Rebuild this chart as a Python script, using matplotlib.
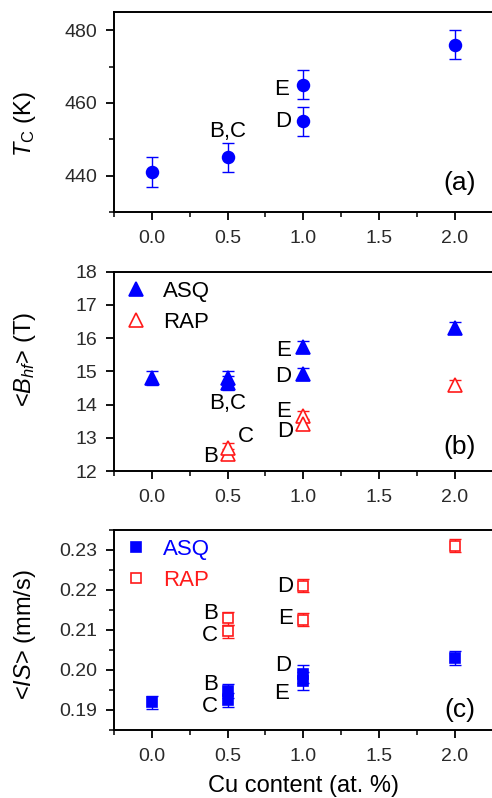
import matplotlib
matplotlib.use("Agg")
import matplotlib.pyplot as plt
from matplotlib.ticker import MultipleLocator

plt.rcParams['font.family'] = ['Liberation Sans', 'DejaVu Sans']
plt.rcParams['mathtext.fontset'] = 'custom'
plt.rcParams['mathtext.it'] = 'Liberation Sans:italic'
plt.rcParams['mathtext.rm'] = 'Liberation Sans'

BLUE = '#0000ff'
RED = '#ff1a1a'

# (a) Curie temperature
tc_x = [0.0, 0.5, 1.0, 1.0, 2.0]
tc_y = [441, 445, 465, 455, 476]
tc_err = [4, 4, 4, 4, 4]

# (b) mean hyperfine field
bhf_asq_x = [0.0, 0.5, 0.5, 1.0, 1.0, 2.0]
bhf_asq_y = [14.8, 14.8, 14.65, 15.72, 14.93, 16.32]
bhf_asq_err = [0.2, 0.2, 0.2, 0.18, 0.18, 0.18]
bhf_rap_x = [0.5, 0.5, 1.0, 1.0, 2.0]
bhf_rap_y = [12.5, 12.7, 13.65, 13.42, 14.6]
bhf_rap_err = [0.15, 0.15, 0.15, 0.15, 0.15]

# (c) mean isomer shift
is_asq_x = [0.0, 0.5, 0.5, 1.0, 1.0, 2.0]
is_asq_y = [0.1919, 0.1948, 0.1925, 0.1990, 0.1972, 0.2030]
is_asq_err = [0.0016, 0.0018, 0.0018, 0.0022, 0.0022, 0.0018]
is_rap_x = [0.5, 0.5, 1.0, 1.0, 2.0]
is_rap_y = [0.2129, 0.2097, 0.2211, 0.2126, 0.2311]
is_rap_err = [0.0016, 0.0016, 0.0016, 0.0016, 0.0017]

# sample letters
notes_a = [("B,C", 0.5, 452), ("E", 0.86, 463.8), ("D", 0.87, 455)]
notes_b = [("B,C", 0.5, 14.04), ("C", 0.62, 13.03), ("B", 0.385, 12.43),
           ("E", 0.87, 15.64), ("D", 0.87, 14.84), ("E", 0.87, 13.78), ("D", 0.88, 13.18)]
notes_c = [("B", 0.39, 0.2140), ("C", 0.38, 0.2086), ("D", 0.88, 0.2209), ("E", 0.88, 0.2129),
           ("B", 0.385, 0.1963), ("C", 0.38, 0.1908), ("D", 0.865, 0.2011), ("E", 0.86, 0.1940)]

W, H = 492, 798
fig = plt.figure(figsize=(W / 100, H / 100), dpi=100)
left, right = 114 / W, 492.5 / W
ax_a = fig.add_axes([left, 1 - 212 / H, right - left, 200 / H])
ax_b = fig.add_axes([left, 1 - 471 / H, right - left, 199.3 / H])
ax_c = fig.add_axes([left, 1 - 730 / H, right - left, 200 / H])


def style(ax):
    ax.set_xlim(-0.25, 2.25)
    ax.xaxis.set_major_locator(MultipleLocator(0.5))
    ax.xaxis.set_minor_locator(MultipleLocator(0.25))
    ax.xaxis.set_major_formatter(plt.FormatStrFormatter('%.1f'))
    for s in ax.spines.values():
        s.set_linewidth(1.4)
    ax.tick_params(which='major', direction='out', length=6, width=1.3,
                   labelsize=14, labelcolor='#2a2a2a', pad=6)
    ax.tick_params(axis='x', which='major', pad=7)
    ax.tick_params(which='minor', direction='out', length=3.5, width=1.1)


def ebar(ax, x, y, err, color, marker, ms, filled):
    ax.errorbar(x, y, yerr=err, fmt='none', ecolor=color, elinewidth=1.0,
                capsize=4, capthick=1.0, zorder=2)
    line, = ax.plot(x, y, linestyle='none', marker=marker, markersize=ms,
                    markerfacecolor=color if filled else 'white',
                    markeredgecolor=color, markeredgewidth=1.2, zorder=3)
    return line


def notes(ax, items):
    for t, x, y in items:
        ax.text(x, y, t, ha='center', va='center', fontsize=16, color='black')


# (a)
style(ax_a)
ebar(ax_a, tc_x, tc_y, tc_err, BLUE, 'o', 8.5, True)
ax_a.set_ylim(430, 485)
ax_a.yaxis.set_major_locator(MultipleLocator(20))
ax_a.yaxis.set_minor_locator(MultipleLocator(10))
notes(ax_a, notes_a)
ax_a.set_ylabel(r'$T_{\mathrm{C}}$ (K)', fontsize=17, va='center')
ax_a.yaxis.set_label_coords(-0.235, 0.44)
ax_a.text(0.913, 0.145, '(a)', transform=ax_a.transAxes, ha='center', va='center', fontsize=19)

# (b)
style(ax_b)
h1 = ebar(ax_b, bhf_asq_x, bhf_asq_y, bhf_asq_err, BLUE, '^', 9.5, True)
h2 = ebar(ax_b, bhf_rap_x, bhf_rap_y, bhf_rap_err, RED, '^', 9.5, False)
ax_b.set_ylim(12, 18)
ax_b.yaxis.set_major_locator(MultipleLocator(1))
notes(ax_b, notes_b)
ax_b.set_ylabel(r'<$B_{hf}$> (T)', fontsize=17, va='center')
ax_b.yaxis.set_label_coords(-0.235, 0.56)
ax_b.text(0.913, 0.118, '(b)', transform=ax_b.transAxes, ha='center', va='center', fontsize=19)
ax_b.legend([h1, h2], ['ASQ', 'RAP'], loc='upper left', bbox_to_anchor=(0, 1),
            borderaxespad=0, frameon=False, fontsize=16, handlelength=1.15,
            handletextpad=0.65, labelspacing=0.45, borderpad=0.4)

# (c)
style(ax_c)
h3 = ebar(ax_c, is_asq_x, is_asq_y, is_asq_err, BLUE, 's', 7.5, True)
h4 = ebar(ax_c, is_rap_x, is_rap_y, is_rap_err, RED, 's', 7.5, False)
ax_c.set_ylim(0.185, 0.235)
ax_c.yaxis.set_major_locator(MultipleLocator(0.01))
ax_c.yaxis.set_minor_locator(MultipleLocator(0.005))
ax_c.yaxis.set_major_formatter(plt.FormatStrFormatter('%.2f'))
notes(ax_c, notes_c)
ax_c.set_ylabel(r'<$IS$> (mm/s)', fontsize=17, va='center')
ax_c.yaxis.set_label_coords(-0.235, 0.475)
ax_c.set_xlabel('Cu content (at. %)', fontsize=17, labelpad=7)
ax_c.text(0.913, 0.10, '(c)', transform=ax_c.transAxes, ha='center', va='center', fontsize=19)
leg = ax_c.legend([h3, h4], ['ASQ', 'RAP'], loc='upper left', bbox_to_anchor=(0, 1),
                  borderaxespad=0, frameon=False, fontsize=16, handlelength=1.15,
                  handletextpad=0.65, labelspacing=0.45, borderpad=0.4)
leg.get_texts()[0].set_color(BLUE)
leg.get_texts()[1].set_color(RED)

fig.savefig('out.png', dpi=100)
